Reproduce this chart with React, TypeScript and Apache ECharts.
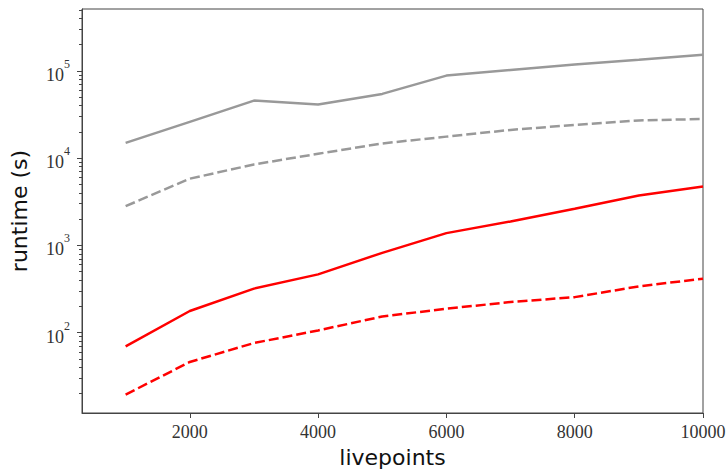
import React, { useEffect, useRef } from "react";
import * as echarts from "echarts";

const livepoints = [1000, 2000, 3000, 4000, 5000, 6000, 7000, 8000, 9000, 10000];
const greySolid = [14900, 26000, 45500, 41000, 54300, 88000, 102000, 118000, 134000, 153000];
const greyDashed = [2810, 5800, 8450, 11200, 14700, 17600, 21000, 24000, 27000, 28000];
const redSolid = [69.7, 177, 319, 465, 820, 1380, 1880, 2620, 3720, 4720];
const redDashed = [19.5, 46.1, 76, 106, 153, 188, 224, 255, 339, 415];

const xTicks = [2000, 4000, 6000, 8000, 10000];
const yMajor = [100, 1000, 10000, 100000];
const yMinor = (() => {
  const out: number[] = [];
  for (const d of [10, 100, 1000, 10000, 100000]) {
    for (let k = 2; k <= 9; k++) out.push(k * d);
  }
  return out;
})();

const X_MIN = 320;
const X_MAX = 10000;
const Y_MIN = 12;
const Y_MAX = 510000;

export default function App() {
  const ref = useRef<HTMLDivElement>(null);
  useEffect(() => {
    if (!ref.current) return;
    const chart = echarts.init(ref.current, undefined, { renderer: "svg" });
    const pair = (ys: number[]) => livepoints.map((x, i) => [x, ys[i]]);
    const axisColor = "#444";
    chart.setOption({
      animation: false,
      backgroundColor: "#fff",
      grid: {
        left: 82,
        top: 9,
        right: 24,
        bottom: 62,
        containLabel: false,
        outerBoundsMode: "none",
        show: true,
        borderColor: axisColor,
        borderWidth: 1,
        backgroundColor: "transparent",
      },
      xAxis: {
        type: "value",
        min: X_MIN,
        max: X_MAX,
        name: "livepoints",
        nameLocation: "middle",
        nameGap: 33,
        nameTextStyle: { fontFamily: "DejaVu Sans", fontSize: 22, color: "#111" },
        axisLine: { show: true, lineStyle: { color: axisColor, width: 1 } },
        axisTick: { show: true, customValues: xTicks, length: 5, lineStyle: { color: axisColor } },
        axisLabel: {
          customValues: xTicks,
          margin: 10,
          formatter: (v: number) => String(v),
          fontFamily: "Liberation Serif",
          fontSize: 18,
          color: "#333",
        },
        splitLine: { show: false },
      },
      yAxis: [
        {
          type: "log",
          min: Y_MIN,
          max: Y_MAX,
          name: "runtime (s)",
          nameLocation: "middle",
          nameGap: 52,
          nameTextStyle: { fontFamily: "DejaVu Sans", fontSize: 22, color: "#111" },
          axisLine: { show: true, lineStyle: { color: axisColor, width: 1 } },
          axisTick: { show: true, customValues: yMajor, length: 5, lineStyle: { color: axisColor } },
          axisLabel: {
            customValues: yMajor,
            margin: 12,
            formatter: (v: number) => `{b|10}{s|${Math.round(Math.log10(v))}}`,
            rich: {
              b: { fontFamily: "Liberation Serif", fontSize: 18, color: "#333", lineHeight: 20, verticalAlign: "bottom" },
              s: { fontFamily: "Liberation Serif", fontSize: 12, color: "#333", lineHeight: 26, verticalAlign: "top" },
            },
          },
          splitLine: { show: false },
        },
        {
          type: "log",
          min: Y_MIN,
          max: Y_MAX,
          position: "left",
          axisLine: { show: false },
          axisTick: { show: true, customValues: yMinor, length: 3, lineStyle: { color: axisColor } },
          axisLabel: { show: false },
          splitLine: { show: false },
        },
      ],
      series: [
        { type: "line", data: pair(greySolid), showSymbol: false, lineStyle: { color: "#999", width: 2.5 } },
        { type: "line", data: pair(greyDashed), showSymbol: false, lineStyle: { color: "#999", width: 2.5, type: [10, 4] } },
        { type: "line", data: pair(redSolid), showSymbol: false, lineStyle: { color: "#ff0000", width: 2.5 } },
        { type: "line", data: pair(redDashed), showSymbol: false, lineStyle: { color: "#ff0000", width: 2.5, type: [10, 4] } },
      ],
    });
    return () => chart.dispose();
  }, []);
  return (
    <div
      ref={ref}
      style={{ position: "fixed", left: 0, top: 0, width: 727, height: 475, background: "#fff" }}
    />
  );
}
